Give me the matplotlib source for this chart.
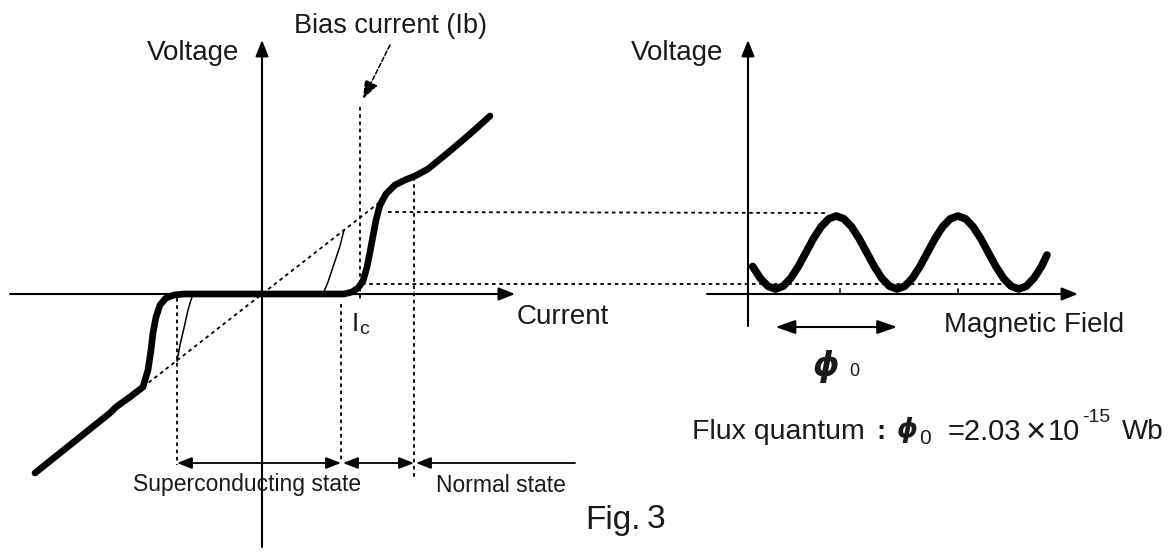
import matplotlib
matplotlib.use("Agg")
import matplotlib.pyplot as plt
from matplotlib import font_manager

# ---------------- data ----------------
# Left panel: I-V characteristic, coordinates relative to the axes origin
# (current to the right, voltage upward), in picture units
iv_I = [-227, -202, -177, -152, -146, -132, -119, -114, -111, -109, -106,
        -102, -96, -88, -78, 82, 90, 96, 101, 105, 108, 111, 114, 118, 124,
        133, 143, 153, 166, 188, 208, 228]
iv_V = [-179, -159, -139, -119, -113, -103, -93, -76, -56, -39, -23,
        -11, -4, -1, 0, 0, 2, 6, 13, 27, 42, 58, 74, 89, 100,
        109, 114, 118, 125, 143, 160, 178]

# thin (switching) branches
thin_r_I = [61, 66, 71, 75, 78, 82]
thin_r_V = [0, 12, 27, 39, 48, 64]
thin_l_I = [-69, -71, -74, -78, -82, -85]
thin_l_V = [0, -6, -16, -34, -51, -67]

# ohmic (normal-state) dashed line end points
ohm_I = [-119, 118]
ohm_V = [-93, 92]

# characteristic currents
I_left = -85       # left boundary of superconducting state
I_c = 79           # critical current
I_b = 98           # bias current
I_n = 152          # onset of normal state

# Right panel: voltage vs magnetic field (relative to the axes origin)
field_B = [4.7, 12.3, 19.9, 27.5, 35.1, 42.7, 50.3, 57.9, 65.5, 73.1, 80.7,
           88.3, 95.9, 103.5, 111.1, 118.7, 126.3, 133.9, 141.5, 149.1, 156.7,
           164.3, 171.9, 179.5, 187.1, 194.7, 202.3, 209.9, 217.5, 225.1,
           232.7, 240.3, 247.9, 255.5, 263.1, 270.7, 278.3, 285.9, 293.5, 299.0]
field_V = [27.5, 15.7, 7.8, 5.0, 7.8, 15.7, 27.5, 41.5, 55.5, 67.3, 75.2,
           78.0, 75.2, 67.3, 55.5, 41.5, 27.5, 15.7, 7.8, 5.0, 7.8, 15.7,
           27.5, 41.5, 55.5, 67.3, 75.2, 78.0, 75.2, 67.3, 55.5, 41.5, 27.5,
           15.7, 7.8, 5.0, 7.8, 15.7, 27.5, 39.0]
field_ticks = [92, 210]
phi0_span = [27.5, 149.1]
V_max = 81
V_min = 9

# ---------------- layout ----------------
W, H = 1176, 552
L0 = (262, 294)   # left origin (pixels)
R0 = (748, 294)   # right origin (pixels)

def LX(i): return L0[0] + i
def LY(v): return L0[1] - v
def RX(b): return R0[0] + b
def RY(v): return R0[1] - v

def has_font(name):
    try:
        font_manager.findfont(font_manager.FontProperties(family=name),
                              fallback_to_default=False)
        return True
    except Exception:
        return False

SANS = "Liberation Sans" if has_font("Liberation Sans") else "DejaVu Sans"
NARROW = "Liberation Sans Narrow" if has_font("Liberation Sans Narrow") else None
TXT = "#1a1a1a"

fig = plt.figure(figsize=(W / 100, H / 100), dpi=100)
ax = fig.add_axes([0, 0, 1, 1])
ax.set_xlim(0, W)
ax.set_ylim(H, 0)
ax.axis("off")

axis_kw = dict(arrowstyle="-|>,head_length=0.7,head_width=0.28",
               mutation_scale=14, lw=1.5, color="black",
               shrinkA=0, shrinkB=0)
dash = dict(color="black", lw=1.3, dashes=(2, 2))

# ---- left panel axes ----
ax.annotate("", xy=(515, L0[1]), xytext=(10, L0[1]), arrowprops=axis_kw)
ax.annotate("", xy=(L0[0], 40), xytext=(L0[0], 547), arrowprops=axis_kw)

# ohmic dashed line
ax.plot([LX(i) for i in ohm_I], [LY(v) for v in ohm_V], **dash)

# thin branches
ax.plot([LX(i) for i in thin_r_I], [LY(v) for v in thin_r_V], color="black", lw=1.1)
ax.plot([LX(i) for i in thin_l_I], [LY(v) for v in thin_l_V], color="black", lw=1.1)

# thick I-V curve
ax.plot([LX(i) for i in iv_I], [LY(v) for v in iv_V], color="black", lw=4.8,
        solid_capstyle="round", solid_joinstyle="round")

# vertical dashed guide lines
ax.plot([LX(I_left)] * 2, [298, 465], **dash)
ax.plot([LX(I_c)] * 2, [304, 463], **dash)
ax.plot([LX(I_b)] * 2, [107, 302], **dash)
ax.plot([LX(I_n)] * 2, [177, 478], **dash)

# horizontal dashed guide lines towards the right panel
ax.plot([388, RX(field_B[11]) - 8], [LY(V_max + 1), RY(V_max)], **dash)
ax.plot([LX(I_b) + 2, RX(field_B[35]) - 8], [LY(V_min + 1), RY(V_min + 1)], **dash)

# bottom state arrows
yb = 463
small = dict(mutation_scale=10, lw=1.3, color="black", shrinkA=0, shrinkB=0)
ax.annotate("", xy=(LX(I_left), yb), xytext=(LX(I_c), yb),
            arrowprops=dict(arrowstyle="<|-|>,head_length=0.9,head_width=0.35", **small))
ax.annotate("", xy=(LX(I_c) + 2, yb), xytext=(LX(I_n), yb),
            arrowprops=dict(arrowstyle="<|-|>,head_length=0.9,head_width=0.35", **small))
ax.annotate("", xy=(LX(I_n) + 2, yb), xytext=(575, yb),
            arrowprops=dict(arrowstyle="-|>,head_length=0.9,head_width=0.35", **small))

# bias current annotation
ax.annotate("", xy=(363, 99), xytext=(390, 45),
            arrowprops=dict(arrowstyle="-|>,head_length=0.8,head_width=0.3",
                            mutation_scale=14, lw=1.1, color="black",
                            linestyle=(0, (3, 1.5)), shrinkA=0, shrinkB=0))

# left texts
ax.text(193, 53, "Voltage", fontsize=20, family=SANS, color=TXT, ha="center", va="center")
ax.text(294, 26, "Bias current (Ib)", fontsize=19.5, family=SANS, color=TXT,
        ha="left", va="center")
ax.text(517, 317, "Current", fontsize=20, family=SANS, color=TXT, ha="left", va="center")
ax.text(352, 324, "I", fontsize=19, family=SANS, color=TXT, ha="left", va="center")
ax.text(359, 329, "c", fontsize=14, family=SANS, color=TXT, ha="left", va="center")
if NARROW:
    ax.text(247, 485, "Superconducting state", fontsize=20, family=NARROW,
            color=TXT, ha="center", va="center")
    ax.text(501, 485, "Normal state", fontsize=20, family=NARROW,
            color=TXT, ha="center", va="center")
else:
    ax.text(247, 485, "Superconducting state", fontsize=16.5, family=SANS,
            color=TXT, ha="center", va="center")
    ax.text(501, 485, "Normal state", fontsize=16.5, family=SANS,
            color=TXT, ha="center", va="center")

# ---- right panel ----
ax.annotate("", xy=(1078, R0[1]), xytext=(707, R0[1]), arrowprops=axis_kw)
ax.annotate("", xy=(R0[0], 40), xytext=(R0[0], 326), arrowprops=axis_kw)
for b in field_ticks:
    ax.plot([RX(b)] * 2, [R0[1] - 5, R0[1]], color="black", lw=1.1)

ax.plot([RX(b) for b in field_B], [RY(v) for v in field_V], color="black", lw=5.5,
        solid_capstyle="round", solid_joinstyle="round")

ax.annotate("", xy=(RX(phi0_span[0]), 327), xytext=(RX(phi0_span[1]), 327),
            arrowprops=dict(arrowstyle="<|-|>,head_length=1.0,head_width=0.35",
                            mutation_scale=12, lw=1.5, color="black",
                            shrinkA=0, shrinkB=0))

ax.text(677, 53, "Voltage", fontsize=20, family=SANS, color=TXT, ha="center", va="center")
ax.text(944, 325, "Magnetic Field", fontsize=20, family=SANS, color=TXT,
        ha="left", va="center")
ax.text(826, 366, "\u03d5", fontsize=24, family="DejaVu Sans", weight="bold",
        style="italic", color=TXT, ha="center", va="center")
ax.text(849, 371, "0", fontsize=13, family=SANS, color=TXT, ha="left", va="center")

# flux quantum line
ax.text(692, 432, "Flux quantum", fontsize=20.5, family=SANS, color=TXT,
        ha="left", va="center")
ax.text(881, 432, ":", fontsize=20, family=SANS, weight="bold", color=TXT,
        ha="center", va="center")
ax.text(907, 430, "\u03d5", fontsize=19, family="DejaVu Sans", weight="bold",
        style="italic", color=TXT, ha="center", va="center")
ax.text(919, 439, "0", fontsize=15, family=SANS, color=TXT, ha="left", va="center")
ax.text(948, 432, "=2.03", fontsize=21, family=SANS, color=TXT,
        ha="left", va="center")
ax.text(1036, 432, "\u00d7", fontsize=25, family=SANS, color=TXT,
        ha="center", va="center")
ax.text(1048, 432, "10", fontsize=21, family=SANS, color=TXT,
        ha="left", va="center")
ax.text(1082, 418, "-15", fontsize=14, family=SANS, color=TXT, ha="left", va="center")
ax.text(1122, 432, "Wb", fontsize=20, family=SANS, color=TXT, ha="left", va="center")

ax.text(585, 520, "Fig.", fontsize=24, family=SANS, color=TXT, ha="left", va="center")
ax.text(647, 520, "3", fontsize=24, family=SANS, color=TXT, ha="left", va="center")

fig.savefig("out.png", dpi=100)
